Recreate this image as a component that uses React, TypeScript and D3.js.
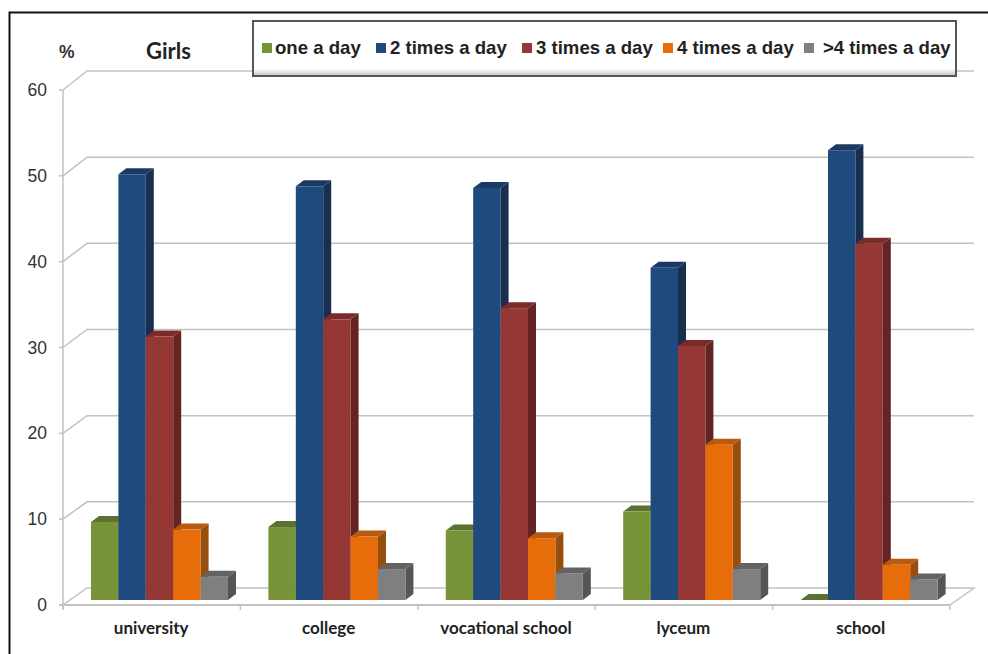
import React from "react";
import * as d3 from "d3";

const categories = ["university", "college", "vocational school", "lyceum", "school"];
const seriesNames = ["one a day", "2 times a day", "3 times a day", "4 times a day", ">4 times a day"];
const oneADay = [9.1, 8.5, 8.1, 10.3, 0];
const twoTimes = [49.6, 48.2, 48, 38.7, 52.4];
const threeTimes = [30.7, 32.7, 34, 29.6, 41.5];
const fourTimes = [8.2, 7.4, 7.2, 18.1, 4.1];
const moreTimes = [2.7, 3.6, 3.1, 3.6, 2.4];
const yTicks = [0, 10, 20, 30, 40, 50, 60];

const seriesValues = [oneADay, twoTimes, threeTimes, fourTimes, moreTimes];
const fronts = ["#779438", "#1f4a7e", "#953735", "#e76c0a", "#7f7f7f"];
const sides = ["#4f6426", "#182f50", "#632423", "#974f10", "#555555"];
const tops = ["#5a7230", "#1a3a63", "#7a2c2a", "#b85a10", "#636363"];
const legendX = [262, 376, 522, 663, 804];
const legendTextX = [275, 390, 536, 677, 823];

const GRID = "#c2c2c2";
const SANS = "'Liberation Sans', Arial, sans-serif";
const HUMAN = "Lato, 'Open Sans', sans-serif";

// Oblique offset of the back wall and of each bar's depth
const wallDx = 24;
const barDx = 8;
const barDy = -6;

const y = d3.scaleLinear().domain([0, 60]).range([605, 90]);
const yBack = d3.scaleLinear().domain([0, 60]).range([588, 71]);
const x = d3.scaleBand<string>().domain(categories).range([63, 950]);
const inner = d3.scaleBand<number>().domain([0, 1, 2, 3, 4]).range([28, 165]);
const barBase = 600;
const unit = y(0) - y(1);

function poly(points: [number, number][]) {
  return (d3.line()(points) ?? "") + "Z";
}

function Bar({ x0, w, value, s }: { x0: number; w: number; value: number; s: number }) {
  const top = barBase - value * unit;
  const x1 = x0 + w;
  return (
    <g>
      <path
        d={poly([[x1, top], [x1 + barDx, top + barDy], [x1 + barDx, barBase + barDy], [x1, barBase]])}
        fill={sides[s]}
      />
      <path
        d={poly([[x0, top], [x0 + barDx, top + barDy], [x1 + barDx, top + barDy], [x1, top]])}
        fill={tops[s]}
      />
      {value > 0 && <rect x={x0} y={top} width={w} height={barBase - top} fill={fronts[s]} />}
    </g>
  );
}

export default function App() {
  return (
    <svg
      width={988}
      height={654}
      style={{ position: "absolute", left: 0, top: 0, background: "#fff" }}
    >
      {/* Outer frame, open at the right and bottom */}
      <path d="M9.5,654V12.5H988" fill="none" stroke="#111" strokeWidth={2} />

      {/* Back wall gridlines */}
      {yTicks.slice(1).map((t) => (
        <path
          key={t}
          d={
            d3.line()([
              [63, y(t)],
              [63 + wallDx, yBack(t)],
              [950 + wallDx, yBack(t)],
            ]) ?? ""
          }
          fill="none"
          stroke={GRID}
          strokeWidth={1.5}
        />
      ))}

      {/* Floor */}
      <path
        d={poly([
          [63, y(0)],
          [950, y(0)],
          [950 + wallDx, yBack(0)],
          [63 + wallDx, yBack(0)],
        ])}
        fill="#fff"
        stroke={GRID}
        strokeWidth={1.5}
      />
      <line x1={59} x2={950} y1={y(0)} y2={y(0)} stroke={GRID} strokeWidth={2} />

      {/* Value axis */}
      <line x1={63} x2={63} y1={y(60)} y2={y(0) + 4} stroke={GRID} strokeWidth={1.5} />
      {yTicks.map((t) => (
        <g key={t}>
          <line x1={59} x2={63} y1={y(t)} y2={y(t)} stroke={GRID} strokeWidth={1.5} />
          <text
            x={47}
            y={y(t) + 6}
            textAnchor="end"
            fontFamily={SANS}
            fontSize={17.5}
            fill="#333"
          >
            {t}
          </text>
        </g>
      ))}

      {/* Category ticks */}
      {[...categories.map((c) => x(c) as number), 950].map((tx) => (
        <line key={tx} x1={tx} x2={tx} y1={y(0)} y2={y(0) + 5} stroke={GRID} strokeWidth={1.5} />
      ))}

      {/* Bars, drawn left to right so each front hides the previous side */}
      {categories.map((c, ci) =>
        seriesValues.map((vals, s) => (
          <Bar
            key={c + s}
            x0={(x(c) as number) + (inner(s) as number)}
            w={inner.bandwidth()}
            value={vals[ci]}
            s={s}
          />
        ))
      )}

      {/* Category labels */}
      {categories.map((c) => (
        <text
          key={c}
          x={(x(c) as number) + x.bandwidth() / 2 - 0.5}
          y={634}
          textAnchor="middle"
          fontFamily={HUMAN}
          fontWeight={700}
          fontSize={17}
          fill="#222"
        >
          {c}
        </text>
      ))}

      {/* Titles */}
      <text x={59} y={58} fontFamily={SANS} fontWeight={700} fontSize={17.5} fill="#333">
        %
      </text>
      <text x={146} y={59} fontFamily={HUMAN} fontWeight={700} fontSize={22} fill="#222">
        Girls
      </text>

      {/* Legend */}
      <defs>
        <linearGradient id="legendFade" x1="0" x2="0" y1="0" y2="1">
          <stop offset="0" stopColor="#fff" />
          <stop offset="1" stopColor="#c8c8c8" />
        </linearGradient>
      </defs>
      <rect x={253} y={21} width={703} height={55} fill="#fff" />
      <rect x={254} y={69} width={701} height={6} fill="url(#legendFade)" />
      <rect x={253} y={21} width={703} height={55} fill="none" stroke="#55555f" strokeWidth={2} />
      {seriesNames.map((n, i) => (
        <g key={n}>
          <rect x={legendX[i]} y={43} width={10} height={10} fill={fronts[i]} />
          <text
            x={legendTextX[i]}
            y={54}
            fontFamily={SANS}
            fontWeight={700}
            fontSize={18.6}
            fill="#222"
          >
            {n}
          </text>
        </g>
      ))}
    </svg>
  );
}
